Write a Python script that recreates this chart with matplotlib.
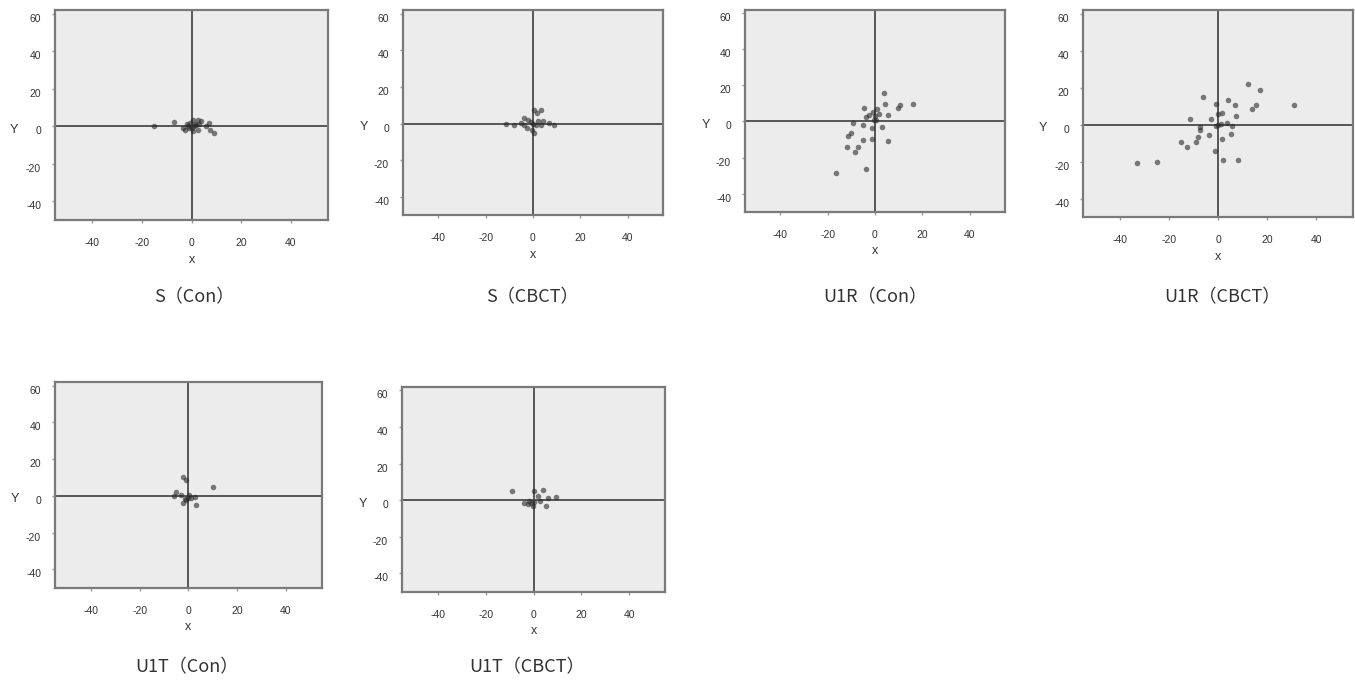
import matplotlib.pyplot as plt
from matplotlib.transforms import ScaledTranslation

plt.rcParams['font.family'] = ['Liberation Sans', 'DejaVu Sans']
plt.rcParams['axes.unicode_minus'] = False

# (data units)
s_con_x = [-15, -7, -2, -3.4, -0.7, 1.4, 2.7, 0.7, 4, 6, 9, 7.5, 7, 2.7, 0.7, -2.7, 0, -1.4, 1, 3, -1, 2]
s_con_y = [0, 2.5, 1, -1, 2, 1, -2, -2.6, 2.6, 0, -3.5, -2, 2, 3.5, 3.5, -2, -1, 0, 0, 1, -1, 0.5]

s_cbct_x = [-11.5, -8, -3.8, -3.8, -2, 1.8, 3.3, 0.4, 4.4, 6.6, 9, -0.3, 0.4, -2.4, 1.1, 3.2, -5, 0, -1, 2]
s_cbct_y = [0, -0.5, 3, -0.6, 2.2, 5.7, 7.6, 7.6, 1.3, 0.4, -0.5, -3.2, -5, -2.3, -0.6, -0.6, 0.4, 0, 1, 1.5]

u1r_con_x = [3.7, 4.4, 10.5, 16, 9.8, 5.4, -4.8, 0.8, 0, -2.4, -3.8, -0.4, -9.3, -5.2, -1.1, 3, -10, -11.3,
             -5.2, -1.4, 5.7, -12, -7.2, -8.6, -3.8, -16.7, 1.5, 0.5, -1]
u1r_con_y = [15.8, 9.7, 9.3, 9.8, 7.4, 3.7, 7.4, 6.9, 3, 3.7, 2.4, 1, -1, -1.8, -3.7, -2.8, -6.5, -8.3,
             -10.5, -9.8, -11, -14, -14, -16.7, -26.5, -28.3, 4, 1, 5]

u1r_cbct_x = [12, 17, 31, 15.3, 14, -6, 4, 6.7, 7.2, -0.7, 0, 1.8, -2.8, -11.4, 0, 3.5, -7.3, -7.3, 5.2,
              -3.5, 1.8, -8.3, -9, -15, -12.8, -1.4, 2, 8, -25, -33, 5.5, 1, -1]
u1r_cbct_y = [22, 19, 10.5, 10.8, 8.6, 14.8, 13.5, 10.5, 5, 11.4, 6, 6.3, 3.2, 3.2, 0, 1, -1.2, -3, -5,
              -5.7, -7.6, -6.6, -9.4, -9.4, -12.2, -14.4, -19.2, -19.2, -20.2, -20.5, -0.7, 0.5, -0.5]

u1t_con_x = [-2.4, -1, 10.2, -5, -6, -3, 0.4, 1, -1, 3.2, -2.4, 0, 2.5, -1.5]
u1t_con_y = [10.4, 8.6, 5, 2.3, 0, 0.5, 0.5, -1.3, -2.2, -5, -4, -1, -0.4, -1.5]

u1t_cbct_x = [-9, 9.5, 4, 0.4, 1.8, 5.3, -2.4, -3.8, -1, -0.3, 2.5, 6, -2, 0]
u1t_cbct_y = [5, 1.6, 5.8, 4.9, 2.2, -3.2, -2.3, -1.4, -1.4, -3.2, -0.5, 1.3, -0.5, -1]

titles = ['S\uff08Con\uff09', 'S\uff08CBCT\uff09', 'U1R\uff08Con\uff09', 'U1R\uff08CBCT\uff09',
          'U1T\uff08Con\uff09', 'U1T\uff08CBCT\uff09']
xs = [s_con_x, s_cbct_x, u1r_con_x, u1r_cbct_x, u1t_con_x, u1t_cbct_x]
ys = [s_con_y, s_cbct_y, u1r_con_y, u1r_cbct_y, u1t_con_y, u1t_cbct_y]

# axes boxes in figure fractions [left, bottom, width, height]
boxes = [
    [0.0406, 0.677, 0.2015, 0.308],
    [0.2974, 0.684, 0.1919, 0.301],
    [0.5498, 0.689, 0.1919, 0.297],
    [0.7993, 0.681, 0.1993, 0.304],
    [0.0406, 0.137, 0.1970, 0.302],
    [0.2967, 0.131, 0.1941, 0.301],
]
# caption centres (figure fractions)
caps = [(0.143, 0.563), (0.393, 0.563), (0.646, 0.563), (0.902, 0.563),
        (0.138, 0.020), (0.389, 0.020)]

fig = plt.figure(figsize=(13.55, 6.81), dpi=100)
shift = ScaledTranslation(0, -4 / 100, fig.dpi_scale_trans)

for box, cap, x, y, title in zip(boxes, caps, xs, ys, titles):
    ax = fig.add_axes(box)
    ax.set_facecolor('#ececec')
    ax.set_xlim(-55, 55)
    ax.set_ylim(-50, 62)
    ax.axhline(0, color='#555555', lw=1.4, zorder=1)
    ax.axvline(0, color='#555555', lw=1.4, zorder=1)
    ax.plot(x, y, 'o', color='#2a2a2a', markersize=4, alpha=0.6, markeredgewidth=0, zorder=3)
    ax.set_xticks([-40, -20, 0, 20, 40])
    ax.set_yticks([-40, -20, 0, 20, 40, 60])
    ax.tick_params(direction='out', length=2, width=1, color='#999999',
                   labelsize=7.5, labelcolor='#333333')
    ax.tick_params(axis='x', pad=11)
    ax.tick_params(axis='y', pad=8)
    for lab in ax.get_yticklabels():
        lab.set_transform(lab.get_transform() + shift)
    for sp in ax.spines.values():
        sp.set_color('#7a7a7a')
        sp.set_linewidth(1.6)
    ax.set_xlabel('x', fontsize=9, color='#333333', labelpad=4)
    ax.set_ylabel('Y', fontsize=9, color='#333333', rotation=0, va='center', ha='center')
    ax.yaxis.set_label_coords(-0.15, 0.43)
    fig.text(cap[0], cap[1], title, ha='center', va='center', fontsize=13, color='#333333',
             family=['Noto Sans CJK KR', 'DejaVu Sans'])

fig.savefig('out.png', dpi=100)
plt.close(fig)
